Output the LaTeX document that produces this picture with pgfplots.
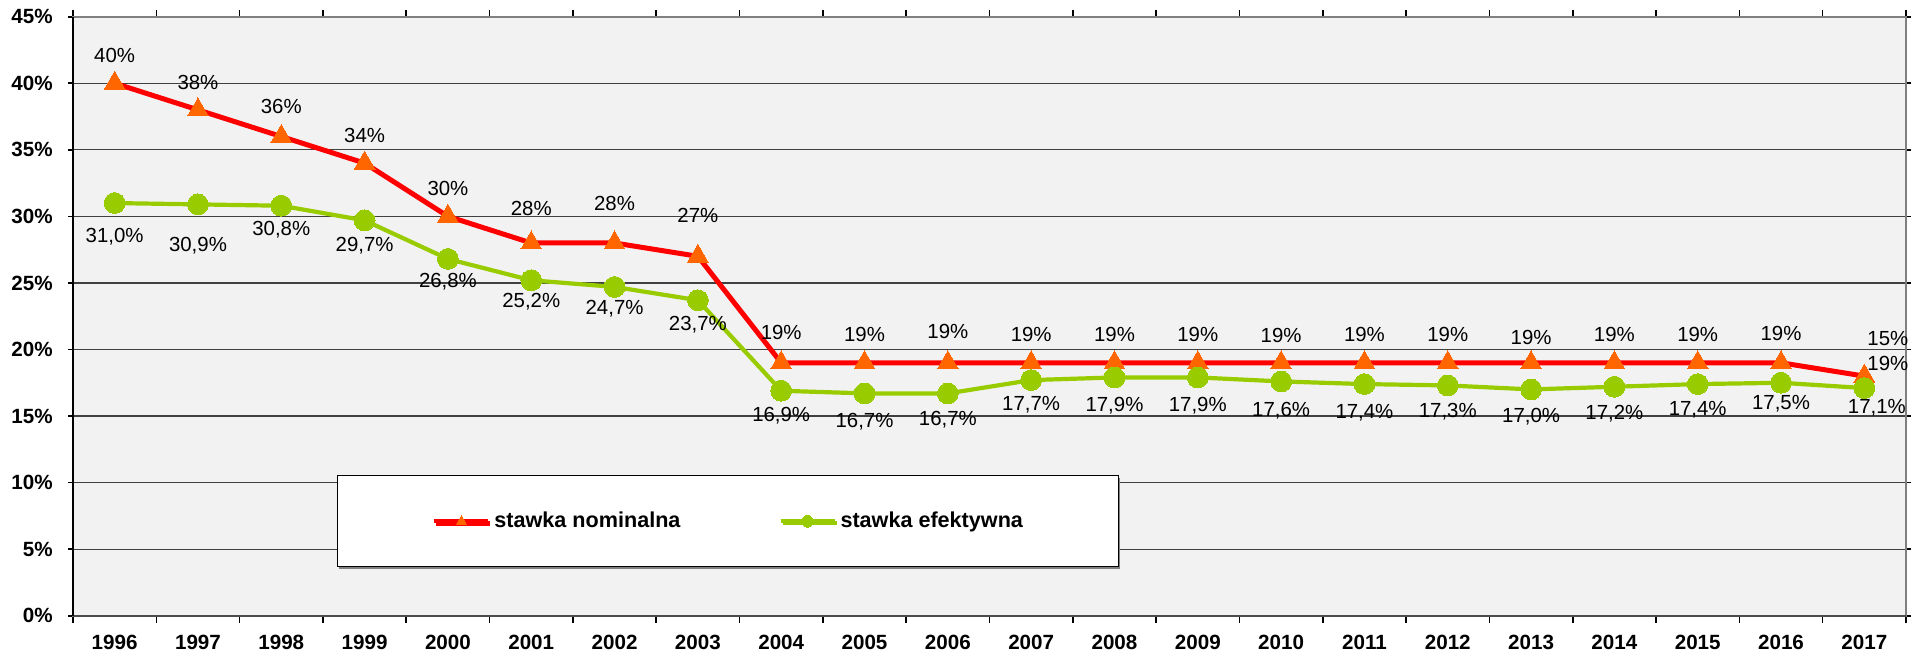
\documentclass[border=0pt]{standalone}
\usepackage{fontspec}
\setmainfont{Liberation Sans}
\usepackage{pgfplots}
\usepackage{pgfplotstable}
\pgfplotsset{compat=1.18}
\usetikzlibrary{shadows}
\definecolor{bg}{HTML}{F2F2F2}
\definecolor{nomred}{HTML}{FF0000}
\definecolor{nomorange}{HTML}{FF6600}
\definecolor{effgreen}{HTML}{99CC00}

\pgfplotstableread{
x y lab dy dx
0 40 40 14 0
1 38 38 14 0
2 36 36 15 0
3 34 34 14 0
4 30 30 14 0
5 28 28 17.5 0
6 28 28 20 0
7 27 27 20.5 0
8 19 19 15 0
9 19 19 14 0
10 19 19 15.5 0
11 19 19 14 0
12 19 19 14 0
13 19 19 14 0
14 19 19 13.5 0
15 19 19 14 0
16 19 19 14 0
17 19 19 12.5 0
18 19 19 14 0
19 19 19 14 0
20 19 19 14.5 0
21 18 19 6.5 11.75
}\nom

\pgfplotstableread{
x y lab dy dx
0 31.0 31,0 -16 0
1 30.9 30,9 -20 0
2 30.8 30,8 -11.5 0
3 29.7 29,7 -12 0
4 26.8 26,8 -10.5 0
5 25.2 25,2 -10 0
6 24.7 24,7 -10 0
7 23.7 23,7 -11.5 0
8 16.9 16,9 -12 0
9 16.7 16,7 -13.5 0
10 16.7 16,7 -12.5 0
11 17.7 17,7 -11.5 0
12 17.9 17,9 -13.5 0
13 17.9 17,9 -13.5 0
14 17.6 17,6 -14 0
15 17.4 17,4 -13.5 0
16 17.3 17,3 -12.5 0
17 17.0 17,0 -13 0
18 17.2 17,2 -13 0
19 17.4 17,4 -12 0
20 17.5 17,5 -10 0
21 17.1 17,1 -9 6.25
}\eff

\begin{document}
\begin{tikzpicture}
\begin{axis}[
  scale only axis,
  width=916.5pt, height=299.5pt,
  xmin=-0.5, xmax=21.5,
  ymin=0, ymax=45,
  xtick={0,...,21},
  xticklabels={1996,1997,1998,1999,2000,2001,2002,2003,2004,2005,2006,2007,2008,2009,2010,2011,2012,2013,2014,2015,2016,2017},
  minor xtick={-0.5,0.5,...,21.5},
  ytick={0,5,...,45},
  yticklabel={\pgfmathprintnumber{\tick}\%},
  /pgf/number format/assume math mode=true,
  tick align=outside,
  major tick length=2.5pt,
  minor tick length=3.5pt,
  major x tick style={draw=none},
  minor x tick style={draw=black, line width=0.8pt},
  major y tick style={draw=black, line width=0.8pt},
  ymajorgrids,
  major grid style={draw=black!75, line width=0.6pt},
  axis background/.style={fill=bg},
  axis line style={draw=black!50, line width=1pt},
  ticklabel style={font=\bfseries\fontsize{10.3}{12}\selectfont, text=black},
  yticklabel style={inner sep=0pt, xshift=-7.5pt},
  xticklabel style={inner sep=0pt, yshift=-7pt},
  clip=false,
  legend columns=2,
  legend style={
    at={(0.144,0.0808)}, anchor=south west,
    draw=black, fill=white, line width=0.5pt,
    inner xsep=47.5pt, inner ysep=17.6pt,
    font=\bfseries\fontsize{10.8}{12}\selectfont,
    nodes={inner sep=0pt, text height=8pt, text depth=2.3pt},
    /tikz/every odd column/.append style={column sep=2pt},
    /tikz/every even column/.append style={column sep=49pt},
    drop shadow={shadow xshift=1pt, shadow yshift=-1pt, fill=black!50, opacity=1},
  },
  legend image code/.code={
    \draw[mark repeat=2, mark phase=2, #1, line width=2pt, mark size=2.9pt]
      plot coordinates {(0pt,0pt) (13.5pt,0pt) (27pt,0pt)};
  },
]
\addplot[
  draw=nomred, line width=2.5pt,
  mark=triangle*, mark size=6pt,
  mark options={fill=nomorange, draw=nomorange, line width=0pt},
  point meta=explicit symbolic,
  visualization depends on={\thisrow{dx} \as \dx},
  visualization depends on={\thisrow{dy} \as \dy},
  nodes near coords={\pgfplotspointmeta\%},
  every node near coord/.append style={font=\fontsize{10.2}{12}\selectfont, text=black, anchor=center, inner sep=0pt, text depth=0pt, xshift=\dx, yshift=\dy},
] table[x=x, y=y, meta=lab] {\nom};
\addlegendentry{stawka nominalna}

\addplot[
  draw=effgreen, line width=2.1pt,
  mark=*, mark size=5.2pt,
  mark options={fill=effgreen, draw=effgreen, line width=0pt},
  point meta=explicit symbolic,
  visualization depends on={\thisrow{dx} \as \dx},
  visualization depends on={\thisrow{dy} \as \dy},
  nodes near coords={\pgfplotspointmeta\%},
  every node near coord/.append style={font=\fontsize{10.2}{12}\selectfont, text=black, anchor=center, inner sep=0pt, text depth=0pt, xshift=\dx, yshift=\dy},
] table[x=x, y=y, meta=lab] {\eff};
\addlegendentry{stawka efektywna}

\node[font=\fontsize{10.2}{12}\selectfont, anchor=center, inner sep=0pt, text depth=0pt, xshift=11.75pt, yshift=19pt] at (axis cs:21,18) {15\%};

\draw[black!70, line width=1.2pt] (rel axis cs:0,0) -- (rel axis cs:1,0);
\draw[black, line width=0.9pt] (rel axis cs:0,0) -- (rel axis cs:0,1);
\end{axis}
\pgfresetboundingbox
\path[use as bounding box] (-36.5pt,-19.15pt) rectangle (925.5pt,307.85pt);
\end{tikzpicture}
\end{document}
